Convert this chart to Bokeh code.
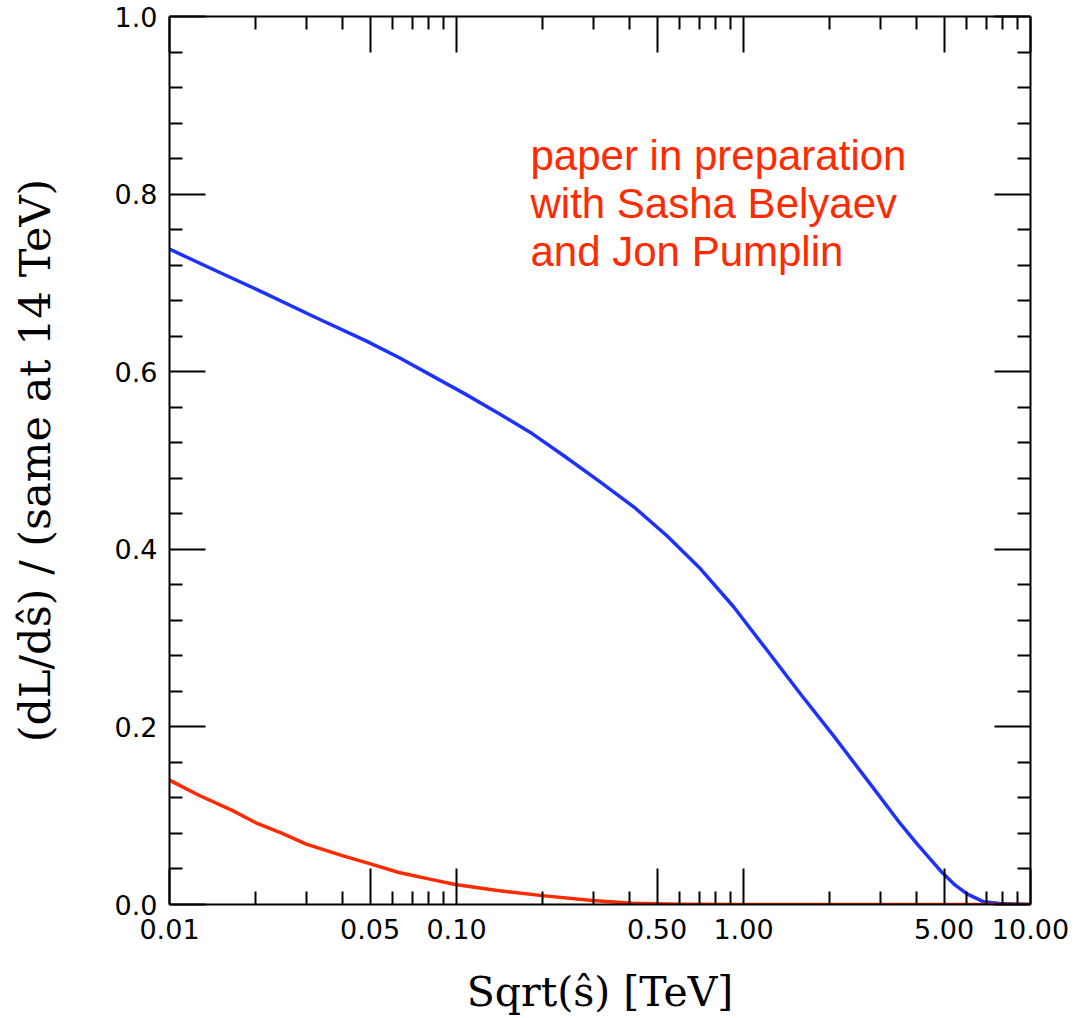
from bokeh.plotting import figure
from bokeh.models import (Range1d, FixedTicker, LogAxis, LinearAxis, Label,
                          CustomJSTickFormatter)
from bokeh.embed import file_html
from bokeh.resources import INLINE

# ---- data ----
blue_x = [0.01, 0.01445, 0.0216, 0.0323, 0.0482, 0.0630, 0.107, 0.1404,
          0.184, 0.240, 0.313, 0.421, 0.542, 0.708, 0.925, 1.21, 1.58, 2.07,
          2.70, 3.52, 4.03, 4.92, 5.41, 6.01, 6.87, 7.8, 10.0]
blue_y = [0.738, 0.714, 0.688, 0.661, 0.635, 0.616, 0.575, 0.553, 0.530,
          0.504, 0.477, 0.446, 0.415, 0.378, 0.335, 0.286, 0.237, 0.189,
          0.140, 0.091, 0.068, 0.036, 0.023, 0.012, 0.003, 0.001, 0.0]

red_x = [0.01, 0.01265, 0.01654, 0.0200, 0.0247, 0.02995, 0.0400, 0.0498,
         0.0630, 0.0822, 0.099, 0.1368, 0.199, 0.297, 0.41, 0.6, 1.0, 10.0]
red_y = [0.140, 0.123, 0.106, 0.092, 0.080, 0.068, 0.055, 0.046, 0.036,
         0.028, 0.0225, 0.016, 0.010, 0.0045, 0.0015, 0.0003, 0.0, 0.0]

x_major = [0.01, 0.05, 0.1, 0.5, 1.0, 5.0, 10.0]
x_minor = [0.02, 0.03, 0.04, 0.06, 0.07, 0.08, 0.09,
           0.2, 0.3, 0.4, 0.6, 0.7, 0.8, 0.9,
           2.0, 3.0, 4.0, 6.0, 7.0, 8.0, 9.0]
y_major = [0.0, 0.2, 0.4, 0.6, 0.8, 1.0]
y_minor = [0.04, 0.08, 0.12, 0.16, 0.24, 0.28, 0.32, 0.36, 0.44, 0.48, 0.52,
           0.56, 0.64, 0.68, 0.72, 0.76, 0.84, 0.88, 0.92, 0.96]

note_lines = ["paper in preparation", "with Sasha Belyaev", "and Jon Pumplin"]
x_title = "Sqrt(\u015d) [TeV]"
y_title = "(dL/d\u015d) / (same at 14 TeV)"

BLUE = "#1e32ff"
RED = "#ff2a00"

p = figure(x_axis_type="log", x_range=Range1d(0.01, 10), y_range=Range1d(0, 1),
           frame_width=861, frame_height=888,
           min_border_left=169, min_border_top=16, min_border_right=52,
           min_border_bottom=114,
           output_backend="svg", toolbar_location=None,
           background_fill_color="white", border_fill_color="white")
p.outline_line_color = None
p.grid.visible = False

p.line(blue_x, blue_y, line_color=BLUE, line_width=3.5, line_join="round")
p.line(red_x, red_y, line_color=RED, line_width=3.5, line_join="round")


def style_axis(ax, show_labels):
    ax.axis_line_width = 2
    ax.axis_line_color = "black"
    ax.major_tick_line_width = 2
    ax.minor_tick_line_width = 2
    ax.major_tick_line_color = "black"
    ax.minor_tick_line_color = "black"
    ax.major_tick_in = 36
    ax.major_tick_out = 0
    ax.minor_tick_in = 13
    ax.minor_tick_out = 0
    if not show_labels:
        ax.major_label_text_font_size = "0px"
        ax.major_label_text_color = None
        ax.major_label_standoff = 0
    else:
        ax.major_label_text_font = "DejaVu Sans"
        ax.major_label_text_font_size = "27px"
        ax.major_label_text_color = "black"


xfmt = CustomJSTickFormatter(code="return tick.toFixed(2);")
yfmt = CustomJSTickFormatter(code="return tick.toFixed(1);")

xa = p.xaxis[0]
xa.ticker = FixedTicker(ticks=x_major, minor_ticks=x_minor)
xa.formatter = xfmt
style_axis(xa, True)
xa.major_label_standoff = 14
xa.axis_label = x_title
xa.axis_label_text_font = "DejaVu Serif"
xa.axis_label_text_font_size = "41px"
xa.axis_label_text_font_style = "normal"
xa.axis_label_text_color = "black"
xa.axis_label_standoff = 26

ya = p.yaxis[0]
ya.ticker = FixedTicker(ticks=y_major, minor_ticks=y_minor)
ya.formatter = yfmt
style_axis(ya, True)
ya.major_label_standoff = 12
ya.axis_label = y_title
ya.axis_label_text_font = "DejaVu Serif"
ya.axis_label_text_font_size = "43px"
ya.axis_label_text_font_style = "normal"
ya.axis_label_text_color = "black"
ya.axis_label_standoff = 52

top = LogAxis(ticker=FixedTicker(ticks=x_major, minor_ticks=x_minor))
style_axis(top, False)
p.add_layout(top, "above")

right = LinearAxis(ticker=FixedTicker(ticks=y_major, minor_ticks=y_minor))
style_axis(right, False)
p.add_layout(right, "right")

for i, t in enumerate(note_lines):
    p.add_layout(Label(x=361, y=749 - i * 48, x_units="screen", y_units="screen",
                       text=t, text_color=RED, text_font="Liberation Sans",
                       text_font_size="42px", text_baseline="alphabetic",
                       text_align="left"))

open("out.html", "w").write(file_html(p, INLINE))
